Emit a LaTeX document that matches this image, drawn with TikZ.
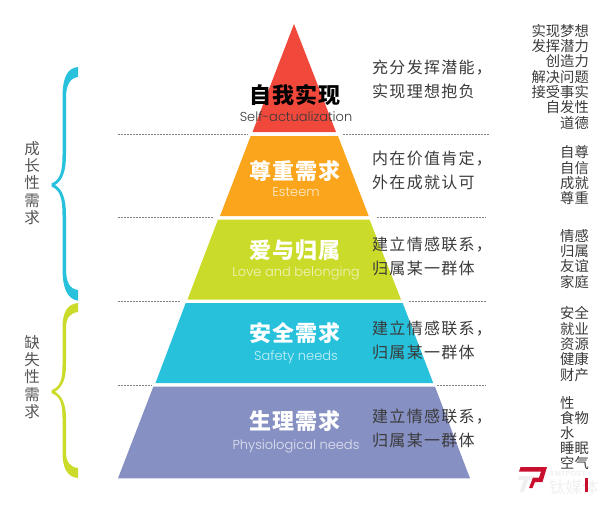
\documentclass[tikz,border=0pt]{standalone}
\usepackage{fontspec}
\setmainfont{Liberation Sans}
\newfontfamily\cjk{Noto Sans CJK SC}
\newfontfamily\cjkt[LetterSpace=4.5]{Noto Sans CJK SC}
\newfontfamily\cjkd[LetterSpace=8]{Noto Sans CJK SC}
\newfontfamily\lat{Poppins Light}
\definecolor{cred}{HTML}{F1483C}
\definecolor{corange}{HTML}{FAA51B}
\definecolor{clime}{HTML}{CBDB2A}
\definecolor{ccyan}{HTML}{27C1DC}
\definecolor{cviolet}{HTML}{8790C3}
\definecolor{ctxt}{HTML}{3A3A3A}
\definecolor{cgrey}{HTML}{555555}
\definecolor{clogo}{HTML}{C8102E}
\definecolor{cpale}{HTML}{F0F0F0}
\tikzset{x=1pt,y=-1pt,
 lab/.style={font=\cjkt\fontsize{22}{22}\selectfont\bfseries,inner sep=0pt,anchor=center},
 sub/.style={font=\lat\fontsize{13}{13}\selectfont,inner sep=0pt,anchor=base},
 desc/.style={font=\cjkd\fontsize{16}{24}\selectfont,text=ctxt,inner sep=0pt,anchor=north west,align=left},
 side/.style={font=\cjk\fontsize{14.3}{15.3}\selectfont,text=ctxt,inner sep=0pt,anchor=north east,align=right},
 vert/.style={font=\cjk\fontsize{15.5}{17.4}\selectfont,text=cgrey,inner sep=0pt,anchor=center,align=center},
 dots/.style={draw=gray,dash pattern=on 1.5pt off 1.5pt,line width=.8pt}}
\begin{document}
\begin{tikzpicture}
\useasboundingbox (0,0) rectangle (611,507);
\fill[cred] (294,24) -- (336,132) -- (252.5,132) -- cycle;
\fill[corange] (250.7,136) -- (338,136) -- (368.7,216) -- (220,216) -- cycle;
\fill[clime] (218,219.5) -- (369.5,219.5) -- (401,299.5) -- (187.5,299.5) -- cycle;
\fill[ccyan] (185.7,303) -- (402.7,303) -- (433.2,383) -- (155.5,383) -- cycle;
\fill[cviolet] (153.3,386.7) -- (435,386.7) -- (470,478.3) -- (118,478.3) -- cycle;
\foreach \ya/\xa/\xb/\xc/\xd in {134/118/248/343/490,217.3/118/213/377/486,301/118/181/409/486,385/118/152/437/486}
 {\draw[dots] (\xa,\ya) -- (\xb,\ya); \draw[dots] (\xc,\ya) -- (\xd,\ya);}
\node[lab,text=black] (t1) at (295,95) {自我实现};
\node[sub,text=ctxt] (s1) at (296,121) {Self-actualization};
\node[lab,text=white] (t2) at (295,171) {尊重需求};
\node[sub,text=white!80!corange] (s2) at (296,196) {Esteem};
\node[lab,text=white] (t3) at (295,250) {爱与归属};
\node[sub,text=white!70!clime] (s3) at (296,276) {Love and belonging};
\node[lab,text=white] (t4) at (295,333) {安全需求};
\node[sub,text=white!75!ccyan] (s4) at (296,360.5) {Safety needs};
\node[lab,text=white] (t5) at (295,421) {生理需求};
\node[sub,text=white!75!cviolet] (s5) at (296,449.5) {Physiological needs};
\node[desc] (d1) at (372,60) {充分发挥潜能，\\实现理想抱负};
\node[desc] (d2) at (372,151) {内在价值肯定，\\外在成就认可};
\node[desc] (d3) at (372,237) {建立情感联系，\\归属某一群体};
\node[desc] (d4) at (372,320.5) {建立情感联系，\\归属某一群体};
\node[desc] (d5) at (372,408.5) {建立情感联系，\\归属某一群体};
\node[side] (r1) at (589,24) {实现梦想\\发挥潜力\\创造力\\解决问题\\接受事实\\自发性\\道德};
\node[side] (r2) at (589,145.5) {自尊\\自信\\成就\\尊重};
\node[side] (r3) at (589,229) {情感\\归属\\友谊\\家庭};
\node[side] (r4) at (589,306.5) {安全\\就业\\资源\\健康\\财产};
\node[font=\cjk\fontsize{14.3}{15}\selectfont,text=ctxt,inner sep=0pt,anchor=north west,align=left] (r5) at (560,396) {性\\食物\\水\\睡眠\\空气};
\node[vert] (v1) at (32,183) {成\\长\\性\\需\\求};
\node[vert] (v2) at (32,377) {缺\\失\\性\\需\\求};
\fill[ccyan] (78,67) .. controls (68,68) and (62.5,76) .. (62.5,98) -- (62.5,155)
 .. controls (62.5,172) and (60,180) .. (51.5,183.5) -- (51.5,186.5) .. controls (60,190) and (62.5,198) .. (62.5,215)
 -- (62.5,268) .. controls (62.5,288) and (67,299) .. (78,300.7) -- (78,290)
 .. controls (70,289) and (66,283) .. (66,268) -- (66,215) .. controls (66,198) and (62,189) .. (55,185)
 .. controls (62,181) and (66,172) .. (66,155) -- (66,98) .. controls (66,85) and (70,78) .. (78,77) -- cycle;
\fill[clime] (78,303) .. controls (68,304) and (62.5,311) .. (62.5,328) -- (62.5,365)
 .. controls (62.5,380) and (60,387) .. (51.5,390.2) -- (51.5,393.2) .. controls (60,396) and (62.5,403) .. (62.5,418)
 -- (62.5,452) .. controls (62.5,468) and (67,477) .. (78,478) -- (78,468)
 .. controls (70,467) and (66,462) .. (66,452) -- (66,418) .. controls (66,404) and (62,396) .. (55,391.7)
 .. controls (62,387) and (66,380) .. (66,365) -- (66,328) .. controls (66,318) and (70,313) .. (78,312) -- cycle;
% watermark
\fill[cpale] (519,476) -- (534,476) -- (532,480) -- (528,480) -- (524,492) -- (520,492) -- (523.5,480) -- (518,480) -- cycle;
\fill[clogo] (520.5,467) -- (547,467) -- (542.5,482) -- (535,482) -- (532.5,488) -- (529,488) -- (533,477.5) -- (539,477.5) -- (541,471.5) -- (519,471.5) -- cycle;
\node[font=\bfseries\fontsize{7.5}{7.5}\selectfont,text=cpale,inner sep=0pt,anchor=west] (w1) at (550,474) {TMTPOST};
\node[font=\cjk\fontsize{16.5}{16.5}\selectfont,text=cpale,inner sep=0pt,anchor=west] (w2) at (549,487) {钛媒体};
\fill[clogo] (584.5,478) -- (587.8,478) -- (587.8,492) -- (584.5,492) -- cycle;
\end{tikzpicture}
\end{document}
